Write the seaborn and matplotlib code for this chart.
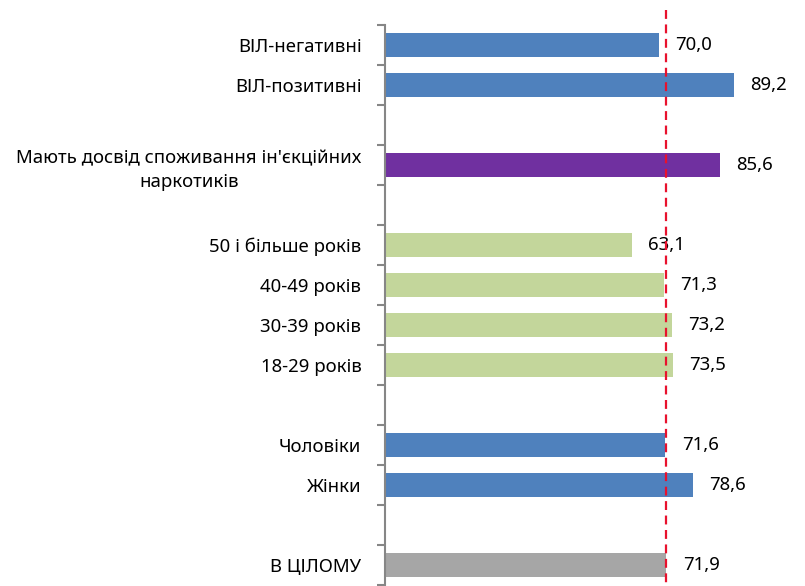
import matplotlib
matplotlib.use("Agg")
import matplotlib.pyplot as plt
import seaborn as sns
import pandas as pd
import numpy as np

# Data
categories = ["ВІЛ-негативні", "ВІЛ-позитивні", "_gap1",
              "Мають досвід споживання ін'єкційних\nнаркотиків", "_gap2",
              "50 і більше років", "40-49 років", "30-39 років", "18-29 років", "_gap3",
              "Чоловіки", "Жінки", "_gap4", "В ЦІЛОМУ"]
labels = ["ВІЛ-негативні", "ВІЛ-позитивні",
          "Мають досвід споживання ін'єкційних\nнаркотиків",
          "50 і більше років", "40-49 років", "30-39 років", "18-29 років",
          "Чоловіки", "Жінки", "В ЦІЛОМУ"]
values = [70.0, 89.2, 85.6, 63.1, 71.3, 73.2, 73.5, 71.6, 78.6, 71.9]
groups = ["hiv", "hiv", "idu", "age", "age", "age", "age", "sex", "sex", "total"]
overall = 71.9

palette = {"hiv": "#4F81BD", "idu": "#7030A0", "age": "#C3D69B",
           "sex": "#4F81BD", "total": "#A6A6A6"}

df = pd.DataFrame({"label": labels, "value": values, "group": groups})

sns.set_theme(style="white")
plt.rcParams["font.family"] = ["Noto Sans", "DejaVu Sans"]

fig = plt.figure(figsize=(8.05, 5.86), dpi=100)
ax = fig.add_axes([385 / 805, 1 / 586, 411 / 805, 560 / 586])

sns.barplot(data=df, x="value", y="label", hue="group", palette=palette,
            order=categories, orient="h", width=0.6, dodge=False,
            legend=False, ax=ax, saturation=1, linewidth=0.0)

ax.set_xlim(0, 105)
ax.set_ylim(len(categories) - 0.5, -0.5)

# y tick labels at bar centers, tick marks at row boundaries
ax.set_yticks(np.arange(len(categories)))
ax.set_yticklabels(["" if c.startswith("_gap") else c for c in categories],
                   fontsize=13.4, color="#000000", multialignment="center",
                   linespacing=1.4)
ax.tick_params(axis="y", which="major", length=0, pad=17)
ax.set_yticks(np.arange(len(categories) + 1) - 0.5, minor=True)
ax.tick_params(axis="y", which="minor", length=6, width=1.5, color="#868686",
               left=True)
ax.set_xticks([])
ax.set_xlabel("")
ax.set_ylabel("")

for s in ["top", "right", "bottom"]:
    ax.spines[s].set_visible(False)
ax.spines["left"].set_color("#868686")
ax.spines["left"].set_linewidth(1.5)

# value labels
for lab, v in zip(labels, values):
    y = categories.index(lab)
    ax.text(v + 4.2, y, f"{v:.1f}".replace(".", ","), va="center", ha="left",
            fontsize=13.4, color="#000000")

# overall reference line
ax.plot([overall, overall], [-0.87, len(categories) - 0.5], color="#E8112D",
        linestyle=(0, (4, 2.5)), linewidth=1.6, clip_on=False, zorder=5)

fig.savefig("out.png", dpi=100)
